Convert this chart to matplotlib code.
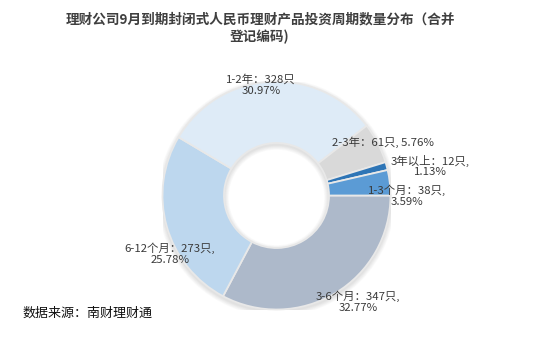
import matplotlib
matplotlib.use("Agg")
import matplotlib.pyplot as plt
from matplotlib.patches import Wedge

plt.rcParams['font.family'] = ['Noto Sans CJK SC', 'DejaVu Sans']

# Investment-period buckets, listed clockwise from 3 o'clock
categories = ["3-6个月", "6-12个月", "1-2年", "2-3年", "3年以上", "1-3个月"]
counts = [347, 273, 328, 61, 12, 38]
colors = ["#adb9ca", "#bdd7ee", "#deebf7", "#d9d9d9", "#2e75b6", "#5b9bd5"]

title = "理财公司9月到期封闭式人民币理财产品投资周期数量分布（合并\n登记编码)"
source = "数据来源：南财理财通"

W, H = 554, 342
fig = plt.figure(figsize=(W / 100, H / 100), dpi=100)

# donut geometry in pixels
cx, cy, R, r_in = 276.5, 195.5, 114.0, 52.5
ax = fig.add_axes([(cx - R) / W, (H - cy - R) / H, 2 * R / W, 2 * R / H])

# soft drop shadow under the ring
px = 1.0 / R
for i in range(6):
    d = (i + 1) * 0.8 * px
    sh = Wedge((0, -2 * px), 1 + d, 0, 360, width=(1 - r_in / R) + 2 * d,
               facecolor="black", edgecolor="none", alpha=0.02, zorder=0)
    ax.add_patch(sh)

wedges, _ = ax.pie(counts, colors=colors, radius=1, startangle=0, counterclock=False,
                   wedgeprops=dict(width=1 - r_in / R, edgecolor="#e8e8e8", linewidth=1.3))
for w in wedges:
    w.set_zorder(2)
ax.set_xlim(-1, 1)
ax.set_ylim(-1, 1)
ax.set_aspect("equal")
ax.axis("off")

total = sum(counts)
# label anchor (pixel centre), line break before the percentage, trailing comma
label_layout = {
    "3-6个月": (358, 302, True, ","),
    "6-12个月": (170, 253.5, True, ","),
    "1-2年": (261, 85, True, ""),
    "2-3年": (383, 142, False, ","),
    "3年以上": (430, 166, True, ","),
    "1-3个月": (407, 196, True, ","),
}
for name, v in zip(categories, counts):
    pct = v / total * 100
    x, y, wrap, comma = label_layout[name]
    sep = "\n" if wrap else " "
    txt = f"{name}：{v}只{comma}{sep}{pct:.2f}%"
    fig.text(x / W, 1 - y / H, txt, ha="center", va="center", fontsize=8.2,
             color="#3a3a3a", linespacing=1.1, zorder=5)

fig.text(260 / W, 1 - 28 / H, title, ha="center", va="center", fontsize=9.8,
         fontweight="bold", color="#3f3f3f", linespacing=1.3)
fig.text(23 / W, 1 - 313 / H, source, ha="left", va="center", fontsize=9.4, color="#111111")

fig.savefig("out.png", dpi=100)
